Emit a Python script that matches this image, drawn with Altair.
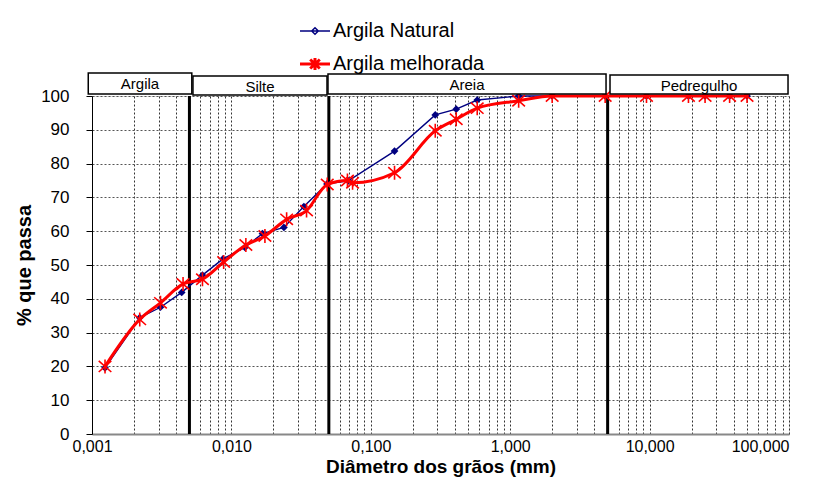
import altair as alt
import pandas as pd

# ---------------- data ----------------
series = ["Argila Natural", "Argila melhorada"]
series_colors = ["#000080", "#FF0000"]

diam_nat = [0.00124, 0.0022, 0.0031, 0.0044, 0.0062, 0.0087, 0.0125, 0.0167, 0.0238,
            0.0331, 0.0485, 0.069, 0.148, 0.29, 0.41, 0.58, 1.15, 2.0, 4.8, 9.5,
            19.0, 25.0, 37.5, 50.0]
pass_nat = [19.6, 34.4, 37.5, 41.9, 47.0, 51.8, 55.2, 59.3, 61.1,
            67.3, 74.0, 74.9, 83.7, 94.4, 96.1, 98.8, 100.0, 100.0, 100.0, 100.0,
            100.0, 100.0, 100.0, 100.0]

diam_mel = [0.00124, 0.0022, 0.0031, 0.0045, 0.0062, 0.0088, 0.0127, 0.0174, 0.0249,
            0.0346, 0.0487, 0.068, 0.074, 0.148, 0.29, 0.41, 0.58, 1.15, 2.0, 4.8,
            9.5, 19.0, 25.0, 37.5, 50.0]
pass_mel = [20.0, 33.9, 38.8, 44.4, 45.8, 50.9, 55.9, 58.6, 63.5,
            66.1, 73.8, 75.0, 74.3, 77.3, 89.7, 93.1, 96.4, 98.6, 100.0, 100.0,
            100.0, 100.0, 100.0, 100.0, 100.0]

zones = ["Argila", "Silte", "Areia", "Pedregulho"]
zone_start = [0.00094, 0.0053, 0.0493, 5.2]
zone_end = [0.0052, 0.0485, 4.87, 98.4]
zone_bottom = [100.6, 100.3, 100.6, 100.6]
zone_top = [106.8, 105.9, 106.5, 106.2]

boundaries = [0.005, 0.05, 5.0]

decades = [0.001, 0.01, 0.1, 1.0, 10.0, 100.0]
decade_labels = ["0,001", "0,010", "0,100", "1,000", "10,000", "100,000"]
minor_mult = [1, 2, 3, 4, 5, 6, 7, 8, 9]
y_ticks = [0, 10, 20, 30, 40, 50, 60, 70, 80, 90, 100]

# ---------------- tables ----------------
df_nat = pd.DataFrame({"d": diam_nat, "p": pass_nat, "serie": series[0]})
df_mel = pd.DataFrame({"d": diam_mel, "p": pass_mel, "serie": series[1]})
df_zone = pd.DataFrame({
    "zone": zones, "d": zone_start, "d2": zone_end,
    "p": zone_bottom, "p2": zone_top,
})
df_zone["dm"] = (df_zone["d"] * df_zone["d2"]) ** 0.5
df_zone["pm"] = (df_zone["p"] + df_zone["p2"]) / 2
df_bound = pd.DataFrame({"d": boundaries, "p": [0] * len(boundaries),
                         "p2": [100] * len(boundaries)})

grid_vals = []
for dd in decades[:-1]:
    for m in minor_mult:
        grid_vals.append(dd if m == 1 else dd * m)
grid_vals.append(decades[-1])

label_expr = " : ".join(
    f"datum.value == {v} ? '{t}'" for v, t in zip(decades, decade_labels)
) + " : ''"

FONT = "Liberation Sans"

xs = alt.Scale(type="log", domain=[0.001, 100], nice=False)
ys = alt.Scale(domain=[0, 100], nice=False, zero=True)

xa = alt.Axis(values=grid_vals, labelExpr=label_expr, labelFlush=False,
              labelOverlap=False, ticks=False, labelPadding=4,
              labelAlign={"expr": f"datum.value == {decades[-1]} ? 'right' : 'center'"},
              labelFontSize=16, labelFont=FONT, labelColor="black",
              grid=True, gridDash=[2, 2], gridColor="#333", gridWidth=1,
              domainColor="#888", domainWidth=2,
              titleFontSize=19, titleFont=FONT, titleFontWeight="bold",
              titleColor="black", titlePadding=3)
ya = alt.Axis(values=y_ticks, tickSize=6, tickColor="black", labelPadding=17,
              labelFontSize=17, labelFont=FONT, labelColor="black",
              grid=True, gridDash=[2, 2], gridColor="#555", gridWidth=1,
              domainColor="black", domainWidth=1,
              titleFontSize=20, titleFont=FONT, titleFontWeight="bold",
              titleColor="black", titlePadding=6)

XT = "Diâmetro dos grãos (mm)"
YT = "% que passa"


def X(f):
    return alt.X(f, type="quantitative", scale=xs, axis=xa, title=XT)


def Y(f):
    return alt.Y(f, type="quantitative", scale=ys, axis=ya, title=YT)


nat_path = "M-1,0L1,0M0,-0.22L0.22,0L0,0.22L-0.22,0Z"
mel_path = "M-1,0L1,0M-0.32,-0.3L0.32,0.3M-0.32,0.3L0.32,-0.3M0,-0.4L0,0.4"
star_path = "M-0.9,-0.8L0.9,0.8M-0.9,0.8L0.9,-0.8M0,-1L0,1"

legend = alt.Legend(
    title=None, orient="none", legendX=213, legendY=-75, direction="vertical",
    labelFontSize=20, labelFont=FONT, labelColor="black", labelLimit=400,
    symbolSize=900, labelOffset=8, rowPadding=11, padding=0,
    symbolType={"expr": f"datum.value == '{series[0]}' ? '{nat_path}' : '{mel_path}'"},
    symbolStrokeWidth={"expr": f"datum.value == '{series[0]}' ? 1.5 : 3"},
)
color = alt.Color("serie:N", scale=alt.Scale(domain=series, range=series_colors),
                  legend=legend)

bounds = alt.Chart(df_bound).mark_rule(color="black", strokeWidth=3).encode(
    x=X("d"), y=Y("p"), y2="p2")

line_nat = alt.Chart(df_nat).mark_line(strokeWidth=1.4).encode(
    x=X("d"), y=Y("p"), color=color)
pts_nat = alt.Chart(df_nat).mark_point(shape="diamond", filled=True, size=60,
                                       color=series_colors[0], opacity=1).encode(
    x=X("d"), y=Y("p"))
line_mel = alt.Chart(df_mel).mark_line(strokeWidth=3, interpolate="monotone").encode(
    x=X("d"), y=Y("p"), color=color)
pts_mel = alt.Chart(df_mel).mark_point(shape=star_path, filled=False, size=196,
                                       strokeWidth=1.6, color=series_colors[1],
                                       opacity=1).encode(
    x=X("d"), y=Y("p"))

zone_rect = alt.Chart(df_zone).mark_rect(fill="white", stroke="black",
                                         strokeWidth=1.5).encode(
    x=X("d"), x2="d2", y=Y("p"), y2="p2")
zone_text = alt.Chart(df_zone).mark_text(fontSize=15, font=FONT, color="black",
                                         baseline="middle", dy=1).encode(
    x=X("dm"), y=Y("pm"), text="zone:N")

chart = alt.layer(bounds, line_nat, pts_nat, line_mel, pts_mel, zone_rect, zone_text).properties(
    width=697, height=338,
    autosize=alt.AutoSizeParams(type="none"),
    padding={"left": 84, "top": 88, "right": 21, "bottom": 45},
).configure_view(strokeWidth=0).configure(font=FONT)

chart.save("out.html", embed_options={"renderer": "svg", "actions": False})
